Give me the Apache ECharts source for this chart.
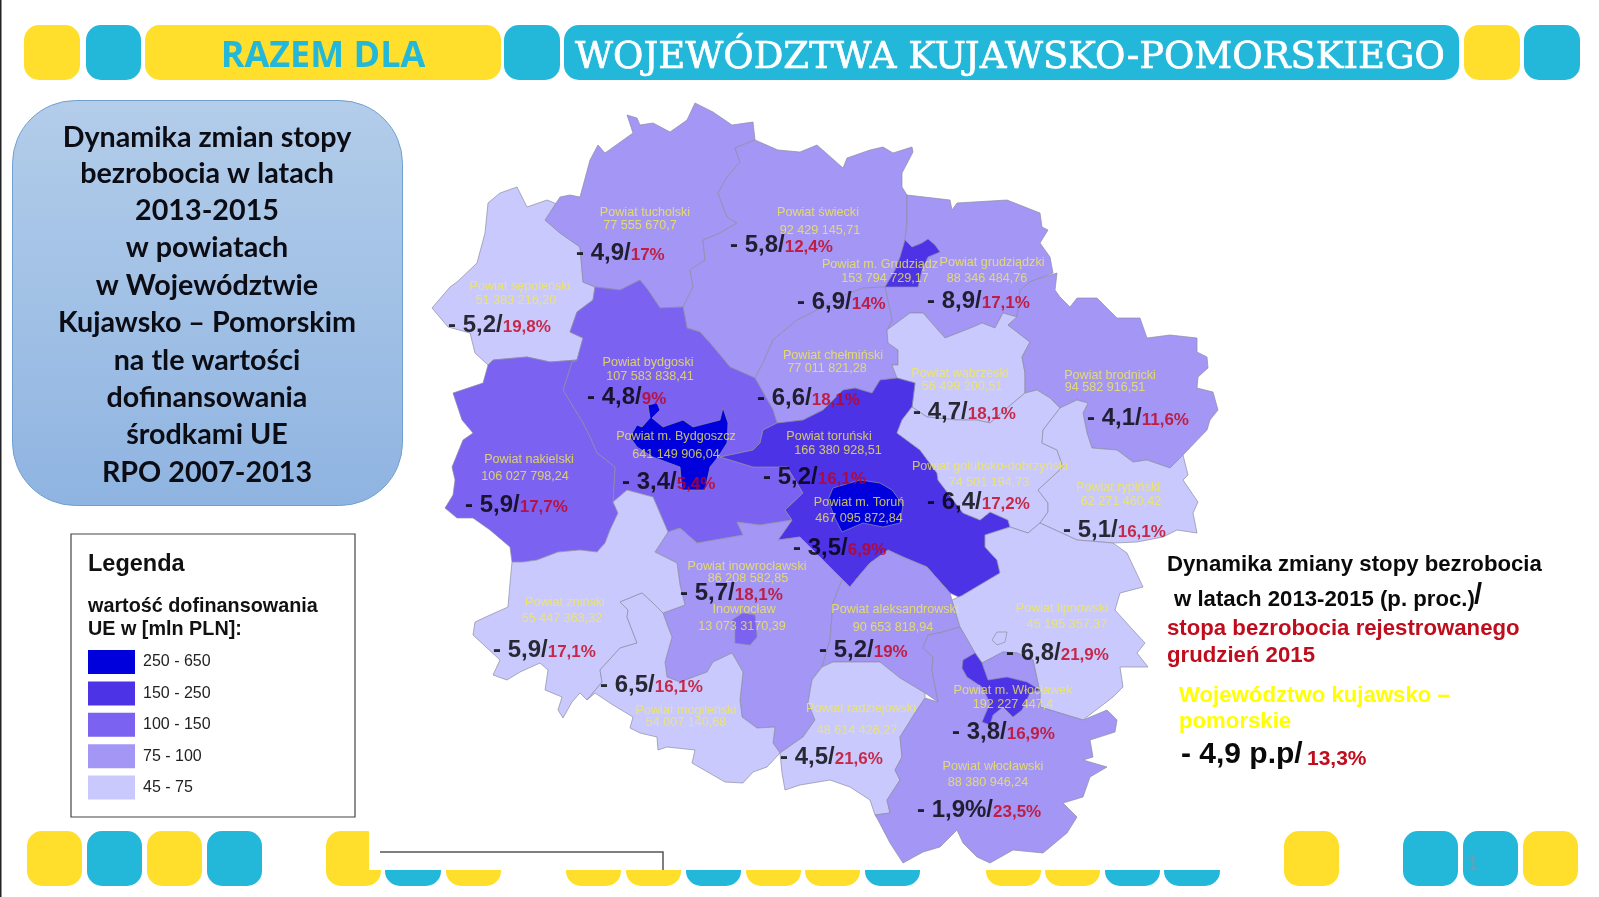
<!DOCTYPE html>
<html>

<head>
  <meta charset="utf-8">
  <title>Dynamika zmian stopy bezrobocia</title>
  <script src="https://cdn.jsdelivr.net/npm/echarts@6/dist/echarts.min.js"></script>
  <style>
    html,
    body {
      width: 100%;
      height: 100%;
      margin: 0;
      background: #fff;
    }

    #main {
      width: 1599px;
      height: 897px;
    }
  </style>
</head>

<body>
  <div id="main"></div>
  <script>
    // powiaty, in the same order in every list below
    var powiaty = ['Powiat sępoleński', 'Powiat tucholski', 'Powiat świecki', 'Powiat grudziądzki', 'Powiat chełmiński',
      'Powiat bydgoski', 'Powiat wąbrzeski', 'Powiat brodnicki', 'Powiat nakielski', 'Powiat toruński',
      'Powiat golubsko-dobrzyński', 'Powiat rypiński', 'Powiat inowrocławski', 'Powiat aleksandrowski', 'Powiat lipnowski',
      'Powiat żniński', 'Powiat mogileński', 'Powiat radziejowski', 'Powiat włocławski',
      'Powiat m. Grudziądz', 'Powiat m. Bydgoszcz', 'Powiat m. Toruń', 'Powiat m. Włocławek', 'Inowrocław'];
    var dofinansowanie = ['51 383 216,20', '77 555 670,7', '92 429 145,71', '88 346 484,76', '77 011 821,28',
      '107 583 838,41', '56 499 200,51', '94 582 916,51', '106 027 798,24', '166 380 928,51',
      '74 501 194,73', '62 271 460,42', '86 208 582,85', '90 653 818,94', '45 195 357,37',
      '55 447 363,32', '54 007 140,68', '48 614 426,27', '88 380 946,24',
      '153 794 729,17', '641 149 906,04', '467 095 872,84', '192 227 447,4', '13 073 3170,39'];
    var dynamika = ['- 5,2', '- 4,9', '- 5,8', '- 8,9', '- 6,6',
      '- 4,8', '- 4,7', '- 4,1', '- 5,9', '- 5,2',
      '- 6,4', '- 5,1', '- 5,7', '- 5,2', '- 6,8',
      '- 5,9', '- 6,5', '- 4,5', '- 1,9%',
      '- 6,9', '- 3,4', '- 3,5', '- 3,8', null];
    var stopa = ['19,8%', '17%', '12,4%', '17,1%', '18,1%',
      '9%', '18,1%', '11,6%', '17,7%', '16,1%',
      '17,2%', '16,1%', '18,1%', '19%', '21,9%',
      '17,1%', '16,1%', '21,6%', '23,5%',
      '14%', '5,4%', '6,9%', '16,9%', null];

    var przedzialy = [
      { min: 250, max: 650, label: '250 - 650', color: '#0000dc' },
      { min: 150, max: 250, label: '150 - 250', color: '#4d33e6' },
      { min: 100, max: 150, label: '100 - 150', color: '#7c62f0' },
      { min: 75, max: 100, label: '75 - 100', color: '#a396f5' },
      { min: 45, max: 75, label: '45 - 75', color: '#c9c9fe' }
    ];

    var tytul = ['Dynamika zmian stopy', 'bezrobocia w latach', '2013-2015', 'w powiatach', 'w Województwie',
      'Kujawsko – Pomorskim', 'na tle wartości', 'dofinansowania', 'środkami UE', 'RPO 2007-2013'];

    // traced outlines of the powiaty, in the pixel space of the page
    var outlines = {
      'Powiat sępoleński': [[432, 308], [450, 287], [457, 282], [477, 263], [485, 233], [488, 203], [500, 193], [517, 187], [527, 207], [547, 200], [567, 208], [545, 220], [560, 233], [580, 247], [583, 282], [595, 287], [593, 300], [577, 312], [570, 332], [583, 338], [577, 360], [550, 362], [527, 357], [493, 360], [488, 365], [475, 353], [470, 333], [448, 327]],
      'Powiat tucholski': [[545, 220], [560, 197], [570, 195], [580, 197], [590, 160], [598, 145], [605, 153], [633, 133], [627, 115], [637, 118], [640, 125], [653, 123], [670, 132], [687, 120], [695, 103], [713, 112], [732, 125], [753, 122], [755, 140], [735, 148], [740, 162], [727, 177], [718, 193], [727, 217], [737, 223], [720, 233], [703, 240], [705, 260], [690, 270], [693, 287], [683, 307], [660, 308], [648, 290], [640, 280], [620, 290], [595, 287], [583, 282], [580, 247], [560, 233]],
      'Powiat świecki': [[735, 148], [755, 140], [778, 150], [800, 152], [817, 145], [843, 168], [847, 158], [870, 150], [883, 147], [893, 153], [912, 147], [913, 152], [902, 173], [902, 187], [907, 195], [907, 223], [905, 240], [900, 270], [885, 287], [863, 288], [840, 297], [817, 310], [797, 320], [773, 340], [763, 363], [755, 378], [730, 367], [710, 343], [700, 332], [687, 328], [683, 307], [693, 287], [690, 270], [705, 260], [703, 240], [720, 233], [737, 223], [727, 217], [718, 193], [727, 177], [740, 162]],
      'Powiat grudziądzki': [[907, 195], [950, 200], [952, 210], [957, 203], [1007, 200], [1040, 213], [1042, 227], [1048, 230], [1040, 243], [1050, 257], [1053, 273], [1040, 278], [1030, 282], [1020, 290], [1017, 317], [1003, 313], [995, 328], [982, 323], [973, 327], [945, 338], [923, 313], [910, 313], [887, 330], [892, 320], [885, 287], [900, 270], [905, 240], [907, 223]],
      'Powiat chełmiński': [[755, 378], [763, 363], [773, 340], [797, 320], [817, 310], [840, 297], [863, 288], [885, 287], [892, 320], [887, 330], [888, 343], [898, 350], [898, 365], [892, 365], [897, 378], [880, 380], [872, 393], [855, 388], [843, 390], [823, 410], [803, 420], [777, 423], [773, 410]],
      'Powiat bydgoski': [[595, 287], [620, 290], [640, 280], [648, 290], [660, 308], [683, 307], [687, 328], [700, 332], [710, 343], [730, 367], [755, 378], [773, 410], [777, 423], [763, 430], [760, 443], [753, 450], [720, 457], [753, 467], [787, 467], [803, 493], [785, 510], [792, 520], [760, 525], [737, 522], [743, 535], [697, 543], [680, 528], [668, 532], [653, 497], [627, 490], [613, 502], [615, 467], [597, 453], [590, 437], [583, 423], [563, 390], [572, 362], [577, 360], [583, 338], [570, 332], [577, 312], [593, 300]],
      'Powiat wąbrzeski': [[887, 330], [910, 313], [923, 313], [945, 338], [973, 327], [982, 323], [995, 328], [1003, 313], [1017, 317], [1008, 325], [1030, 342], [1022, 357], [1025, 373], [1025, 393], [1013, 403], [990, 423], [977, 420], [957, 420], [927, 417], [912, 407], [915, 383], [897, 378], [892, 365], [898, 365], [898, 350], [888, 343]],
      'Powiat brodnicki': [[1057, 273], [1055, 290], [1060, 297], [1070, 307], [1077, 298], [1097, 298], [1117, 318], [1140, 318], [1147, 338], [1170, 335], [1197, 338], [1197, 352], [1207, 357], [1208, 368], [1198, 377], [1197, 388], [1213, 392], [1218, 410], [1210, 420], [1207, 430], [1183, 455], [1170, 468], [1147, 460], [1133, 462], [1117, 450], [1092, 448], [1087, 433], [1083, 413], [1088, 403], [1077, 400], [1060, 408], [1050, 398], [1037, 390], [1025, 393], [1025, 373], [1022, 357], [1030, 342], [1008, 325], [1017, 317], [1020, 290], [1030, 282], [1040, 278]],
      'Powiat nakielski': [[488, 365], [493, 360], [527, 357], [550, 362], [577, 360], [572, 362], [563, 390], [583, 423], [590, 437], [597, 453], [615, 467], [613, 502], [618, 513], [610, 530], [605, 543], [597, 552], [580, 550], [558, 552], [537, 560], [523, 562], [512, 562], [510, 547], [490, 530], [473, 518], [457, 518], [445, 508], [453, 495], [455, 480], [452, 467], [463, 440], [473, 433], [462, 420], [453, 393], [483, 383]],
      'Powiat toruński': [[897, 378], [880, 380], [872, 393], [855, 388], [843, 390], [823, 410], [803, 420], [777, 423], [763, 430], [760, 443], [753, 450], [720, 457], [753, 467], [787, 467], [803, 493], [785, 510], [792, 520], [778, 540], [800, 537], [833, 570], [850, 587], [858, 577], [870, 563], [888, 550], [903, 557], [927, 567], [950, 593], [965, 600], [963, 595], [1000, 573], [997, 560], [985, 547], [985, 535], [1010, 527], [1008, 520], [990, 512], [980, 520], [963, 513], [938, 480], [937, 473], [920, 450], [897, 433], [902, 420], [912, 407], [915, 383]],
      'Powiat golubsko-dobrzyński': [[902, 420], [912, 407], [927, 417], [957, 420], [977, 420], [990, 423], [1013, 403], [1025, 393], [1037, 390], [1050, 398], [1060, 408], [1043, 430], [1042, 443], [1057, 450], [1063, 467], [1038, 490], [1048, 503], [1048, 512], [1040, 523], [1028, 533], [1010, 527], [1008, 520], [990, 512], [980, 520], [963, 513], [938, 480], [937, 473], [920, 450], [897, 433]],
      'Powiat rypiński': [[1060, 408], [1077, 400], [1088, 403], [1083, 413], [1087, 433], [1092, 448], [1117, 450], [1133, 462], [1147, 460], [1170, 468], [1183, 455], [1188, 475], [1183, 480], [1198, 502], [1193, 513], [1197, 533], [1177, 530], [1163, 537], [1137, 542], [1113, 543], [1077, 540], [1040, 523], [1048, 512], [1048, 503], [1038, 490], [1063, 467], [1057, 450], [1042, 443], [1043, 430]],
      'Powiat inowrocławski': [[655, 552], [668, 532], [680, 528], [697, 543], [743, 535], [737, 522], [760, 525], [792, 520], [778, 540], [800, 537], [833, 570], [842, 580], [833, 603], [830, 640], [822, 667], [812, 680], [808, 703], [815, 720], [803, 737], [780, 753], [773, 743], [775, 727], [757, 728], [742, 717], [740, 700], [743, 672], [732, 653], [713, 662], [707, 672], [680, 682], [667, 677], [665, 662], [672, 637], [668, 627], [663, 613], [685, 605], [680, 585], [677, 563]],
      'Powiat aleksandrowski': [[842, 580], [850, 587], [858, 577], [870, 563], [888, 550], [903, 557], [927, 567], [950, 593], [952, 600], [960, 627], [943, 632], [928, 635], [923, 648], [933, 657], [932, 670], [938, 702], [925, 693], [900, 678], [880, 662], [833, 662], [822, 667], [830, 640], [833, 603]],
      'Powiat lipnowski': [[985, 535], [985, 547], [997, 560], [1000, 573], [963, 595], [952, 600], [960, 627], [975, 653], [982, 663], [1003, 652], [1017, 653], [1033, 660], [1040, 693], [1040, 707], [1060, 713], [1083, 720], [1100, 707], [1113, 697], [1123, 687], [1120, 667], [1148, 667], [1137, 653], [1145, 643], [1133, 630], [1115, 610], [1120, 593], [1143, 587], [1127, 553], [1113, 543], [1077, 540], [1040, 523], [1028, 533], [1010, 527]],
      'Powiat żniński': [[627, 490], [653, 497], [668, 532], [655, 552], [677, 563], [680, 585], [685, 605], [663, 613], [653, 603], [642, 593], [620, 602], [628, 610], [627, 617], [637, 643], [620, 648], [600, 670], [602, 682], [587, 700], [580, 693], [572, 702], [563, 718], [558, 710], [562, 697], [545, 690], [548, 670], [540, 663], [520, 672], [507, 680], [493, 675], [500, 660], [473, 635], [475, 622], [490, 615], [508, 607], [510, 583], [512, 562], [523, 562], [537, 560], [558, 552], [580, 550], [597, 552], [605, 543], [610, 530], [618, 513], [613, 502]],
      'Powiat mogileński': [[642, 593], [653, 603], [663, 613], [668, 627], [672, 637], [665, 662], [667, 677], [680, 682], [707, 672], [713, 662], [732, 653], [743, 672], [740, 700], [742, 717], [757, 728], [775, 727], [773, 743], [780, 753], [767, 767], [753, 772], [743, 783], [725, 782], [692, 763], [695, 750], [667, 747], [658, 750], [657, 737], [640, 733], [630, 728], [633, 717], [613, 705], [595, 693], [587, 700], [602, 682], [600, 670], [620, 648], [637, 643], [627, 617], [628, 610], [620, 602]],
      'Powiat radziejowski': [[822, 667], [833, 662], [880, 662], [900, 678], [925, 693], [925, 698], [915, 713], [900, 737], [902, 757], [895, 770], [900, 780], [887, 800], [890, 813], [875, 815], [870, 800], [850, 787], [830, 780], [800, 785], [785, 790], [782, 773], [780, 753], [803, 737], [815, 720], [808, 703], [812, 680]],
      'Powiat włocławski': [[938, 702], [932, 670], [933, 657], [923, 648], [928, 635], [943, 632], [960, 627], [975, 653], [982, 663], [1003, 652], [1017, 653], [1033, 660], [1040, 693], [1040, 707], [1060, 713], [1083, 720], [1107, 710], [1117, 720], [1115, 732], [1090, 740], [1093, 757], [1083, 760], [1107, 767], [1090, 777], [1083, 797], [1063, 803], [1077, 817], [1067, 833], [1043, 853], [1013, 850], [990, 863], [977, 857], [963, 843], [957, 830], [940, 847], [923, 852], [903, 863], [890, 843], [878, 820], [875, 815], [890, 813], [887, 800], [900, 780], [895, 770], [902, 757], [900, 737], [915, 713], [925, 698]],
      'Powiat m. Grudziądz': [[905, 240], [912, 247], [922, 243], [928, 239], [935, 245], [940, 252], [928, 257], [922, 270], [918, 287], [900, 287], [885, 287], [895, 270], [900, 257]],
      'Powiat m. Bydgoszcz': [[648, 405], [657, 403], [660, 410], [652, 418], [663, 427], [683, 420], [693, 427], [720, 420], [723, 408], [728, 423], [727, 443], [718, 457], [710, 467], [705, 490], [682, 490], [680, 467], [653, 457], [637, 447], [630, 437], [637, 425], [642, 427], [650, 418]],
      'Powiat m. Toruń': [[833, 488], [860, 480], [880, 483], [892, 490], [903, 505], [900, 523], [883, 527], [863, 523], [842, 532], [835, 518], [828, 500]],
      'Powiat m. Włocławek': [[962, 668], [963, 660], [975, 653], [982, 663], [988, 680], [1007, 677], [1027, 682], [1040, 690], [1030, 693], [1022, 710], [1013, 717], [1003, 707], [993, 715], [990, 725], [982, 722], [990, 703], [982, 687], [967, 677]],
      'Inowrocław': [[732, 620], [743, 613], [755, 615], [757, 637], [750, 645], [735, 643], [735, 630]]
    };
    // the small lake-like patch inside powiat lipnowski, same colour as the powiat
    var lipnowskiPatch = [[992, 640], [997, 632], [1007, 632], [1005, 642], [997, 645]];

    // where the texts of each powiat sit, same order as powiaty
    var nameAnchors = [[520, 287], [645, 213], [818, 213], [992, 263], [833, 356], [648, 363], [960, 374], [1110, 376], [529, 460], [829, 437], [990, 467], [1118, 488], [747, 567], [895, 610], [1062, 609], [565, 603], [686, 711], [861, 709], [993, 767], [880, 265], [676, 437], [859, 503], [1013, 691], [744, 610]];
    var valueAnchors = [[516, 301], [640, 226], [820, 231], [987, 279], [827, 369], [650, 377], [962, 387], [1105, 388], [525, 477], [838, 451], [989, 483], [1121, 502], [748, 579], [893, 628], [1067, 625], [562, 619], [686, 723], [857, 731], [988, 783], [885, 279], [676, 455], [859, 519], [1013, 705], [742, 627]];
    var rateAnchors = [[448, 325], [576, 253], [730, 245], [927, 301], [757, 398], [587, 397], [913, 412], [1087, 418], [465, 505], [763, 477], [927, 502], [1063, 530], [680, 593], [819, 650], [1006, 653], [493, 650], [600, 685], [780, 757], [917, 810], [797, 302], [622, 482], [793, 548], [952, 732], null];

    var YELLOW = '#ffdf2b';
    var BLUE = '#23b8d9';
    var ARIAL = '"Liberation Sans", Arial, sans-serif';

    // top bar [x0, x1, colour]
    var topBlocks = [[24, 80, YELLOW], [86, 141, BLUE], [145, 501, YELLOW], [504, 560, BLUE], [564, 1459, BLUE], [1464, 1520, YELLOW], [1524, 1580, BLUE]];
    var bottomBlocks = [[27, 82, YELLOW], [87, 142, BLUE], [147, 202, YELLOW], [207, 262, BLUE], [326, 381, YELLOW],
      [385, 441, BLUE], [446, 501, YELLOW], [566, 621, YELLOW], [626, 681, YELLOW], [686, 741, BLUE], [746, 801, YELLOW], [805, 860, YELLOW], [865, 920, BLUE],
      [986, 1041, YELLOW], [1045, 1100, YELLOW], [1105, 1160, BLUE], [1164, 1220, BLUE],
      [1284, 1339, YELLOW], [1403, 1458, BLUE], [1463, 1518, BLUE], [1523, 1578, YELLOW]];

    function toMln(text) {
      return parseFloat(text.replace(/ /g, '').replace(',', '.')) / 1000000;
    }

    function block(b, y, h) {
      return { type: 'rect', shape: { x: b[0], y: y, width: b[1] - b[0], height: h, r: 15 }, style: { fill: b[2] } };
    }

    function text(str, x, y, font, fill, align) {
      return {
        type: 'text', x: x, y: y,
        style: { text: str, font: font, fill: fill, align: align || 'left', verticalAlign: 'middle' }
      };
    }

    var graphics = [];
    graphics.push({ type: 'rect', shape: { x: 0, y: 0, width: 1.5, height: 897 }, style: { fill: '#222' } });
    topBlocks.forEach(function (b) {
      graphics.push(block(b, 25, 55));
    });
    bottomBlocks.forEach(function (b) {
      graphics.push(block(b, 831, 55));
    });
    // white sheet hiding the upper part of the bottom row
    graphics.push({ type: 'rect', shape: { x: 369, y: 826, width: 860, height: 44 }, style: { fill: '#fff' } });
    graphics.push({ type: 'polyline', shape: { points: [[380, 852], [663, 852], [663, 870]] }, style: { stroke: '#555', lineWidth: 1.5, fill: null } });
    graphics.push(text('1', 1473, 864, '20px ' + ARIAL, '#7f98a8', 'center'));

    graphics.push(text('RAZEM DLA', 323, 57, 'bold 36px "Open Sans"', BLUE, 'center'));
    var naglowek = text('WOJEWÓDZTWA KUJAWSKO-POMORSKIEGO', 1010, 58, '37px "DejaVu Serif"', '#fff', 'center');
    naglowek.style.stroke = '#fff';
    naglowek.style.lineWidth = 0.7;
    graphics.push(naglowek);

    // title panel
    graphics.push({
      type: 'rect',
      shape: { x: 12.5, y: 100.5, width: 390, height: 405, r: 63 },
      style: {
        stroke: '#6f9fd0', lineWidth: 1,
        fill: new echarts.graphic.LinearGradient(0, 0, 0, 1, [{ offset: 0, color: '#b3cdea' }, { offset: 1, color: '#8fb4e1' }])
      }
    });
    var tytulY = [138, 174, 211, 248, 286, 323, 361, 398, 435, 473];
    tytul.forEach(function (t, i) {
      graphics.push(text(t, 207, tytulY[i], 'bold 28.7px Lato', '#0c0c14', 'center'));
    });

    // legend frame and captions, the colour keys themselves are the visualMap
    graphics.push({ type: 'rect', shape: { x: 71, y: 534, width: 284, height: 283 }, style: { fill: '#fff', stroke: '#444', lineWidth: 1.2 } });
    graphics.push(text('Legenda', 88, 565, 'bold 23.5px ' + ARIAL, '#111'));
    graphics.push(text('wartość dofinansowania', 88, 607, 'bold 19.8px ' + ARIAL, '#111'));
    graphics.push(text('UE w [mln PLN]:', 88, 630, 'bold 19.8px ' + ARIAL, '#111'));

    // side notes
    graphics.push(text('Dynamika zmiany stopy bezrobocia', 1167, 565, 'bold 22.2px ' + ARIAL, '#0a0a0a'));
    graphics.push(text('w latach 2013-2015 (p. proc.)', 1174, 600, 'bold 22.2px ' + ARIAL, '#0a0a0a'));
    graphics.push(text('/', 1474, 596, 'bold 29px ' + ARIAL, '#0a0a0a'));
    graphics.push(text('stopa bezrobocia rejestrowanego', 1167, 629, 'bold 22.2px ' + ARIAL, '#c00d1e'));
    graphics.push(text('grudzień 2015', 1167, 656, 'bold 22.2px ' + ARIAL, '#c00d1e'));
    graphics.push(text('Województwo kujawsko –', 1179, 696, 'bold 22.2px ' + ARIAL, '#ffff00'));
    graphics.push(text('pomorskie', 1179, 722, 'bold 22.2px ' + ARIAL, '#ffff00'));
    graphics.push(text('- 4,9 p.p/', 1181, 755, 'bold 30px ' + ARIAL, '#0a0a0a'));
    graphics.push(text('13,3%', 1307, 759, 'bold 21px ' + ARIAL, '#c00d1e'));

    function feature(name, ring) {
      return { type: 'Feature', properties: { name: name }, geometry: { type: 'Polygon', coordinates: [ring] } };
    }

    var features = powiaty.map(function (name) {
      return feature(name, outlines[name]);
    });
    features.push(feature('Powiat lipnowski (enklawa)', lipnowskiPatch));
    echarts.registerMap('kujawsko-pomorskie', { type: 'FeatureCollection', features: features });

    var mapData = powiaty.map(function (name, i) {
      return { name: name, value: toMln(dofinansowanie[i]) };
    });
    mapData.push({ name: 'Powiat lipnowski (enklawa)', value: toMln(dofinansowanie[powiaty.indexOf('Powiat lipnowski')]) });

    function yellowSeries(anchors, texts) {
      return {
        type: 'scatter',
        coordinateSystem: 'geo',
        symbolSize: 0,
        silent: true,
        z: 5,
        data: anchors.map(function (a, i) { return { value: a, label: { formatter: texts[i] } }; }),
        label: {
          show: true, position: 'inside', align: 'center', verticalAlign: 'middle',
          color: '#f3ea52', fontFamily: ARIAL, fontSize: 12.6
        }
      };
    }

    var rateData = [];
    powiaty.forEach(function (name, i) {
      if (dynamika[i] !== null) {
        rateData.push({ value: rateAnchors[i], label: { formatter: '{k|' + dynamika[i] + '/}{r|' + stopa[i] + '}' } });
      }
    });

    var myChart = echarts.init(document.getElementById('main'));
    var option = {
      animation: false,
      graphic: { elements: graphics },
      visualMap: {
        type: 'piecewise',
        seriesIndex: 0,
        left: 88,
        top: 650,
        padding: 0,
        itemWidth: 47,
        itemHeight: 24,
        itemGap: 7.4,
        textGap: 8,
        itemSymbol: 'rect',
        selectedMode: false,
        hoverLink: false,
        textStyle: { color: '#222', fontFamily: ARIAL, fontSize: 16 },
        pieces: przedzialy
      },
      geo: {
        map: 'kujawsko-pomorskie',
        roam: false,
        silent: true,
        projection: {
          project: function (p) { return p; },
          unproject: function (p) { return p; }
        },
        boundingCoords: [[0, 0], [1599, 897]],
        left: 0,
        top: 0,
        width: 1599,
        height: 897,
        label: { show: false },
        itemStyle: { borderColor: '#8c8ca2', borderWidth: 0.7, areaColor: '#c9c9fe' },
        emphasis: { disabled: true }
      },
      series: [
        {
          type: 'map',
          geoIndex: 0,
          silent: true,
          data: mapData
        },
        yellowSeries(nameAnchors, powiaty),
        yellowSeries(valueAnchors, dofinansowanie),
        {
          type: 'scatter',
          coordinateSystem: 'geo',
          symbolSize: 0,
          silent: true,
          z: 6,
          data: rateData,
          label: {
            show: true, position: 'inside', align: 'left', verticalAlign: 'middle',
            rich: {
              k: { fontFamily: ARIAL, fontSize: 24, fontWeight: 'bold', color: '#000', verticalAlign: 'middle' },
              r: { fontFamily: ARIAL, fontSize: 17, fontWeight: 'bold', color: '#c4001a', padding: [5, 0, 0, 0] }
            }
          }
        }
      ]
    };
    myChart.setOption(option);
  </script>
</body>

</html>
